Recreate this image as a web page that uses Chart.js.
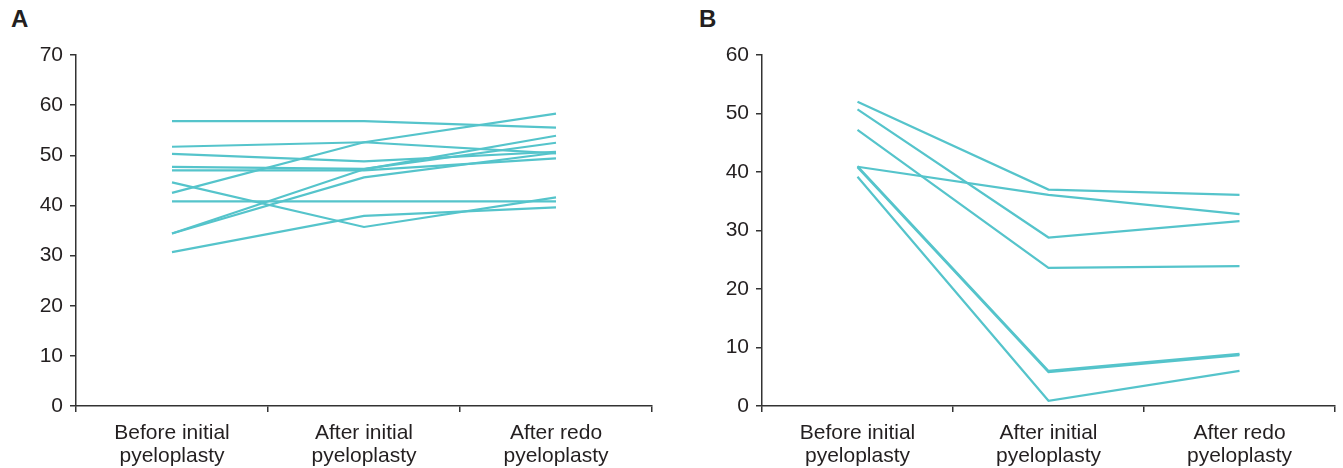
<!DOCTYPE html>
<html>
<head>
<meta charset="utf-8">
<script src="https://cdn.jsdelivr.net/npm/chart.js@4"></script>
<style>
  html, body { margin: 0; padding: 0; background: #fff; }
  body { width: 1343px; height: 468px; position: relative; overflow: hidden; font-family: "Liberation Sans", Arial, sans-serif; }
  .panel { position: absolute; top: 0; height: 468px; }
  .lbl { position: absolute; font-weight: bold; font-size: 24px; line-height: 28px; color: #231f20; }
</style>
</head>
<body>
<div class="lbl" style="left:11px; top:5px;">A</div>
<div class="lbl" style="left:699px; top:5px;">B</div>
<div class="panel" style="left:0; width:680px;"><canvas id="cA"></canvas></div>
<div class="panel" style="left:680px; width:663px;"><canvas id="cB"></canvas></div>
<script>
// ---- Data ----
const categories = [
  ['Before initial', 'pyeloplasty'],
  ['After initial', 'pyeloplasty'],
  ['After redo', 'pyeloplasty']
];

// Panel A (11 patients)
const a1  = [56.8, 56.8, 55.5];
const a2  = [51.7, 52.6, 50.4];
const a3  = [50.3, 48.8, 50.7];
const a4  = [42.5, 52.6, 58.3];
const a5  = [47.7, 47.3, 52.5];
const a6  = [47.0, 47.0, 49.4];
const a7  = [44.6, 35.7, 41.6];
const a8  = [40.8, 40.8, 40.8];
const a9  = [30.7, 37.9, 39.6];
const a10 = [34.4, 47.2, 53.9];
const a11 = [34.4, 45.6, 50.5];
const panelA = [a1, a2, a3, a4, a5, a6, a7, a8, a9, a10, a11];
const yMaxA = 70;

// Panel B (7 patients)
const b1 = [52.0, 37.0, 36.1];
const b2 = [50.7, 28.8, 31.6];
const b3 = [47.2, 23.6, 23.9];
const b4 = [40.9, 36.1, 32.8];
const b5 = [41.0, 6.0, 8.9];
const b6 = [40.8, 5.8, 8.7];
const b7 = [39.2, 0.9, 6.0];
const panelB = [b1, b2, b3, b4, b5, b6, b7];
const yMaxB = 60;

const yStep = 10;

// ---- Styles ----
const lineColor = '#55c4cb';
const axisColor = '#333333';
const textColor = '#231f20';
const fontFamily = '"Liberation Sans", Arial, sans-serif';

function makeChart(id, series, yMax, yAxisWidth, rightPad) {
  const ctx = document.getElementById(id);
  return new Chart(ctx, {
    type: 'line',
    data: {
      labels: categories,
      datasets: series.map(s => ({
        data: s,
        borderColor: lineColor,
        borderWidth: 2.2,
        pointRadius: 0,
        fill: false,
        tension: 0
      }))
    },
    options: {
      responsive: true,
      maintainAspectRatio: false,
      animation: false,
      layout: { padding: { left: 0, right: rightPad, top: 55, bottom: 0 } },
      plugins: { legend: { display: false }, tooltip: { enabled: false } },
      scales: {
        x: {
          type: 'category',
          offset: true,
          grid: {
            offset: true,
            drawOnChartArea: false,
            drawTicks: true,
            tickLength: 6,
            color: axisColor,
            lineWidth: 1.5
          },
          border: { display: true, color: axisColor, width: 1.5 },
          ticks: {
            color: textColor,
            font: { family: fontFamily, size: 21, lineHeight: 1.1 },
            padding: 10,
            maxRotation: 0,
            autoSkip: false
          },
          afterFit: (scale) => { scale.height = 62; }
        },
        y: {
          min: 0,
          max: yMax,
          grid: {
            drawOnChartArea: false,
            drawTicks: true,
            tickLength: 6,
            color: axisColor,
            lineWidth: 1.5
          },
          border: { display: true, color: axisColor, width: 1.5 },
          ticks: {
            stepSize: yStep,
            color: textColor,
            font: { family: fontFamily, size: 21 },
            padding: 7
          },
          afterFit: (scale) => { scale.width = yAxisWidth; }
        }
      }
    }
  });
}

makeChart('cA', panelA, yMaxA, 76, 28);
makeChart('cB', panelB, yMaxB, 82, 8);
</script>
</body>
</html>
